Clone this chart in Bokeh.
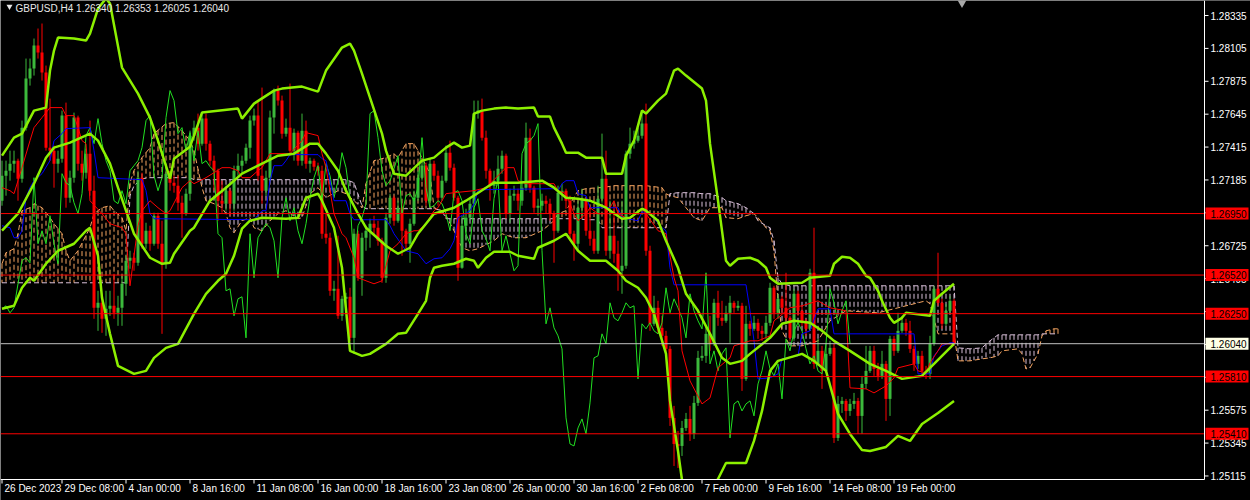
import numpy as np
from bokeh.plotting import figure
from bokeh.models import Range1d, ColumnDataSource
from bokeh.embed import file_html
from bokeh.resources import INLINE
from bokeh.core.properties import value

symbol = "GBPUSD,H4"
first_open = 1.27040

closes = [
    1.27215, 1.27250, 1.27299, 1.27320, 1.27194, 1.27551, 1.27894, 1.27964, 1.28125, 1.28076,
    1.27936, 1.27411, 1.27390, 1.27299, 1.27334, 1.27635, 1.27061, 1.27201, 1.27621, 1.27299,
    1.27236, 1.27369, 1.27110, 1.26291, 1.26326, 1.26214, 1.26284, 1.26305, 1.26256, 1.26291,
    1.26459, 1.26620, 1.26641, 1.26606, 1.27201, 1.26739, 1.26830, 1.26739, 1.26935, 1.26739,
    1.26599, 1.27229, 1.27166, 1.27145, 1.27026, 1.26949, 1.27089, 1.27495, 1.27551, 1.27439,
    1.27614, 1.27439, 1.27320, 1.27250, 1.27040, 1.27019, 1.27110, 1.27019, 1.27250, 1.27285,
    1.27320, 1.27411, 1.27600, 1.27635, 1.27215, 1.27110, 1.27201, 1.27621, 1.27810, 1.27740,
    1.27509, 1.27551, 1.27390, 1.27516, 1.27320, 1.27530, 1.27299, 1.27320, 1.27278, 1.27250,
    1.26809, 1.26781, 1.26410, 1.26424, 1.26235, 1.26354, 1.26368, 1.26081, 1.26809, 1.26501,
    1.26781, 1.26830, 1.26879, 1.26851, 1.26760, 1.26501, 1.26921, 1.27061, 1.26900, 1.26991,
    1.26830, 1.26739, 1.26879, 1.27061, 1.27201, 1.27285, 1.27040, 1.27299, 1.27215, 1.27061,
    1.27180, 1.27376, 1.27271, 1.27061, 1.26571, 1.26865, 1.26921, 1.27019, 1.27649, 1.27670,
    1.27481, 1.27250, 1.27145, 1.27180, 1.27264, 1.27355, 1.26949, 1.27075, 1.27089, 1.27040,
    1.27131, 1.27481, 1.27131, 1.26991, 1.27005, 1.27040, 1.27019, 1.26949, 1.26830, 1.27096,
    1.27110, 1.27040, 1.26809, 1.26739, 1.26991, 1.27054, 1.26830, 1.26774, 1.26690, 1.27054,
    1.27194, 1.26690, 1.26795, 1.26669, 1.26550, 1.26585, 1.27369, 1.27439, 1.27460, 1.27495,
    1.27579, 1.26690, 1.26179, 1.26291, 1.26151, 1.26095, 1.26004, 1.25521, 1.25339, 1.25325,
    1.25451, 1.25514, 1.25409, 1.25626, 1.25941, 1.25955, 1.26109, 1.26039, 1.26326, 1.26221,
    1.26200, 1.26256, 1.26326, 1.26291, 1.26305, 1.25794, 1.26179, 1.26144, 1.26186, 1.26130,
    1.26109, 1.26186, 1.26431, 1.26256, 1.26354, 1.26291, 1.26221, 1.26081, 1.26389, 1.26270,
    1.26200, 1.26144, 1.26536, 1.25899, 1.25990, 1.25850, 1.25969, 1.26011, 1.25381, 1.25619,
    1.25640, 1.25570, 1.25619, 1.25640, 1.25535, 1.25759, 1.25850, 1.25990, 1.25864, 1.25815,
    1.25899, 1.25654, 1.26074, 1.25990, 1.26130, 1.26186, 1.26130, 1.26004, 1.25899, 1.25955,
    1.25850, 1.25829, 1.26039, 1.26424, 1.26326, 1.26179, 1.26270, 1.26340, 1.26040,
]

highs = [
    1.27320, 1.27320, 1.27390, 1.27390, 1.27334, 1.27600, 1.28034, 1.28034, 1.28174, 1.28244,
    1.28279, 1.27985, 1.27754, 1.27425, 1.27390, 1.27670, 1.27726, 1.27250, 1.27656, 1.27635,
    1.27390, 1.27404, 1.27600, 1.27215, 1.26410, 1.26375, 1.26410, 1.26410, 1.26529, 1.26375,
    1.26515, 1.26655, 1.26690, 1.26676, 1.27250, 1.27236, 1.26886, 1.26865, 1.26956, 1.26956,
    1.26900, 1.27285, 1.27250, 1.27215, 1.27215, 1.27075, 1.27124, 1.27530, 1.27600, 1.27649,
    1.27656, 1.27649, 1.27460, 1.27355, 1.27264, 1.27180, 1.27145, 1.27124, 1.27285, 1.27369,
    1.27355, 1.27439, 1.27635, 1.27684, 1.27740, 1.27831, 1.27250, 1.27670, 1.27824, 1.27845,
    1.27775, 1.27614, 1.27859, 1.27544, 1.27530, 1.27649, 1.27600, 1.27341, 1.27334, 1.27306,
    1.27285, 1.26949, 1.26816, 1.26480, 1.26795, 1.26375, 1.26396, 1.26431, 1.26844, 1.26830,
    1.26816, 1.26865, 1.26914, 1.26935, 1.26900, 1.26781, 1.26956, 1.27089, 1.27075, 1.27040,
    1.27019, 1.26844, 1.26914, 1.27110, 1.27250, 1.27320, 1.27306, 1.27334, 1.27320, 1.27250,
    1.27215, 1.27425, 1.27460, 1.27299, 1.27075, 1.26935, 1.26984, 1.27054, 1.27740, 1.27740,
    1.27754, 1.27530, 1.27264, 1.27250, 1.27355, 1.27390, 1.27369, 1.27124, 1.27145, 1.27124,
    1.27180, 1.27586, 1.27544, 1.27145, 1.27054, 1.27089, 1.27075, 1.27054, 1.26970, 1.27145,
    1.27159, 1.27124, 1.27075, 1.26830, 1.27040, 1.27124, 1.27005, 1.27005, 1.26830, 1.27145,
    1.27509, 1.27390, 1.27040, 1.27005, 1.26760, 1.27040, 1.27390, 1.27551, 1.27530, 1.27551,
    1.27670, 1.27719, 1.26725, 1.26375, 1.26340, 1.26235, 1.26130, 1.26025, 1.25605, 1.25430,
    1.25500, 1.25556, 1.25605, 1.25675, 1.25990, 1.26025, 1.26165, 1.26235, 1.26354, 1.26410,
    1.26340, 1.26305, 1.26375, 1.26340, 1.26340, 1.26326, 1.26305, 1.26200, 1.26235, 1.26214,
    1.26165, 1.26235, 1.26466, 1.26445, 1.26389, 1.26375, 1.26536, 1.26235, 1.26424, 1.26410,
    1.26305, 1.26214, 1.26564, 1.26851, 1.26074, 1.26025, 1.26039, 1.26060, 1.26039, 1.25675,
    1.25668, 1.25654, 1.25654, 1.25696, 1.25661, 1.25815, 1.26025, 1.26025, 1.26025, 1.25906,
    1.25990, 1.25920, 1.26095, 1.26095, 1.26256, 1.26235, 1.26214, 1.26200, 1.26025, 1.25990,
    1.25990, 1.25885, 1.26095, 1.26445, 1.26676, 1.26354, 1.26319, 1.26375, 1.26353,
]

lows = [
    1.27005, 1.27075, 1.27180, 1.27236, 1.27040, 1.27166, 1.27530, 1.27845, 1.27915, 1.28034,
    1.27880, 1.27390, 1.27320, 1.27131, 1.27236, 1.27306, 1.26991, 1.27026, 1.27166, 1.27250,
    1.27180, 1.27194, 1.27075, 1.26214, 1.26130, 1.26116, 1.26095, 1.26235, 1.26214, 1.26165,
    1.26165, 1.26375, 1.26564, 1.26550, 1.26585, 1.26704, 1.26704, 1.26690, 1.26725, 1.26704,
    1.26109, 1.26564, 1.27110, 1.27096, 1.26970, 1.26781, 1.26935, 1.27040, 1.27460, 1.27390,
    1.27425, 1.27390, 1.27285, 1.27110, 1.26900, 1.26956, 1.26970, 1.26935, 1.26970, 1.27215,
    1.27236, 1.27299, 1.27334, 1.27565, 1.27180, 1.27019, 1.27075, 1.27180, 1.27509, 1.27705,
    1.27474, 1.27488, 1.27355, 1.27320, 1.27285, 1.27285, 1.27264, 1.27236, 1.27250, 1.27215,
    1.26774, 1.26739, 1.26375, 1.26340, 1.26214, 1.26200, 1.26256, 1.26060, 1.25969, 1.26480,
    1.26375, 1.26690, 1.26711, 1.26795, 1.26725, 1.26466, 1.26466, 1.26879, 1.26865, 1.26886,
    1.26655, 1.26704, 1.26606, 1.26865, 1.27040, 1.27180, 1.27005, 1.27005, 1.27180, 1.27005,
    1.27040, 1.27166, 1.27250, 1.27040, 1.26480, 1.26564, 1.26760, 1.26900, 1.26970, 1.27614,
    1.27460, 1.27194, 1.27040, 1.27089, 1.27145, 1.27229, 1.26914, 1.26886, 1.27040, 1.26970,
    1.27005, 1.27110, 1.27096, 1.26956, 1.26935, 1.26970, 1.26949, 1.26900, 1.26606, 1.26816,
    1.27040, 1.26984, 1.26760, 1.26620, 1.26690, 1.26935, 1.26795, 1.26725, 1.26669, 1.26669,
    1.27026, 1.26655, 1.26634, 1.26606, 1.26410, 1.26389, 1.26564, 1.27334, 1.27404, 1.27446,
    1.27474, 1.26655, 1.26130, 1.26165, 1.26109, 1.26025, 1.25976, 1.25465, 1.25185, 1.25171,
    1.25255, 1.25430, 1.25360, 1.25374, 1.25605, 1.25920, 1.25906, 1.25990, 1.26025, 1.26165,
    1.26165, 1.26186, 1.26046, 1.26256, 1.26270, 1.25710, 1.25780, 1.26095, 1.26130, 1.26074,
    1.26060, 1.26074, 1.26165, 1.26214, 1.26214, 1.26256, 1.26200, 1.26060, 1.26060, 1.26235,
    1.26165, 1.26095, 1.26130, 1.25864, 1.25885, 1.25724, 1.25836, 1.25955, 1.25346, 1.25360,
    1.25556, 1.25500, 1.25535, 1.25584, 1.25409, 1.25409, 1.25724, 1.25836, 1.25815, 1.25780,
    1.25794, 1.25500, 1.25535, 1.25955, 1.25976, 1.26116, 1.26095, 1.25976, 1.25850, 1.25864,
    1.25815, 1.25794, 1.25794, 1.26025, 1.26305, 1.26144, 1.26165, 1.26256, 1.26025,
]

# Bollinger bands (bar index, price)
bb_upper_bar = [0, 3, 5, 8, 11, 12, 13, 14, 18, 21, 22, 24, 26, 27, 30, 34, 37, 39, 42, 43,
                47, 48, 50, 59, 60, 63, 68, 70, 75, 79, 81, 85, 87, 88, 90, 92, 95, 96, 98, 101,
                105, 108, 111, 113, 115, 117, 118, 120, 123, 126, 129, 133, 134, 137, 138, 140, 141, 144, 146, 150,
                151, 155, 156, 158, 160, 161, 164, 166, 168, 169, 171, 175, 176, 177, 179, 181, 182, 184, 187, 189,
                191, 192, 194, 200, 202, 207, 208, 210, 212, 214, 216, 217, 219, 220, 222, 223, 225, 226, 232, 233,
                235, 238]
bb_upper = [1.27355, 1.27481, 1.27509, 1.27670, 1.27691, 1.27950, 1.28090, 1.28181, 1.28174, 1.28160,
            1.28209, 1.28384, 1.28454, 1.28419, 1.27971, 1.27789, 1.27621, 1.27460, 1.27194, 1.27334,
            1.27418, 1.27495, 1.27656, 1.27684, 1.27614, 1.27719, 1.27810, 1.27824, 1.27838, 1.27803,
            1.27950, 1.28111, 1.28139, 1.28090, 1.27929, 1.27761, 1.27509, 1.27390, 1.27229, 1.27215,
            1.27320, 1.27341, 1.27411, 1.27446, 1.27411, 1.27425, 1.27649, 1.27670, 1.27684, 1.27691,
            1.27684, 1.27691, 1.27628, 1.27628, 1.27551, 1.27439, 1.27376, 1.27376, 1.27341, 1.27341,
            1.27229, 1.27229, 1.27355, 1.27460, 1.27670, 1.27649, 1.27740, 1.27789, 1.27950, 1.27964,
            1.27915, 1.27824, 1.27740, 1.27439, 1.27040, 1.26620, 1.26585, 1.26634, 1.26641, 1.26620,
            1.26571, 1.26501, 1.26459, 1.26466, 1.26501, 1.26515, 1.26599, 1.26648, 1.26641, 1.26599,
            1.26515, 1.26501, 1.26410, 1.26340, 1.26221, 1.26186, 1.26221, 1.26256, 1.26235, 1.26340,
            1.26389, 1.26459]

bb_mid_bar = [0, 4, 8, 11, 13, 17, 22, 24, 27, 29, 31, 33, 37, 40, 42, 43, 47, 48, 52, 56,
              60, 65, 69, 73, 77, 79, 81, 84, 86, 89, 91, 96, 99, 102, 104, 108, 113, 116, 121, 123,
              129, 135, 138, 141, 144, 147, 151, 155, 157, 160, 161, 164, 166, 169, 171, 174, 177, 180, 182, 185,
              187, 192, 195, 198, 202, 205, 208, 212, 217, 221, 225, 230, 233, 238]
bb_mid = [1.26830, 1.26949, 1.27159, 1.27341, 1.27411, 1.27446, 1.27509, 1.27460, 1.27299, 1.27131,
          1.26970, 1.26809, 1.26641, 1.26599, 1.26606, 1.26669, 1.26830, 1.26851, 1.27040, 1.27131,
          1.27229, 1.27299, 1.27355, 1.27369, 1.27439, 1.27439, 1.27369, 1.27250, 1.27110, 1.26949,
          1.26851, 1.26725, 1.26669, 1.26711, 1.26809, 1.26949, 1.26991, 1.27040, 1.27131, 1.27166,
          1.27166, 1.27180, 1.27131, 1.27061, 1.27054, 1.27040, 1.26991, 1.26914, 1.26921, 1.26984,
          1.26970, 1.26900, 1.26760, 1.26571, 1.26389, 1.26270, 1.26109, 1.25941, 1.25899, 1.25920,
          1.25969, 1.26081, 1.26179, 1.26200, 1.26186, 1.26130, 1.26060, 1.25990, 1.25899, 1.25850,
          1.25794, 1.25815, 1.25899, 1.26039]

bb_lower_bar = [0, 3, 5, 7, 8, 11, 14, 18, 21, 22, 24, 25, 27, 29, 33, 36, 38, 41, 44, 48,
                51, 54, 56, 58, 60, 62, 65, 71, 74, 76, 79, 80, 83, 85, 87, 90, 92, 96, 99, 101,
                104, 106, 107, 108, 110, 113, 116, 118, 119, 121, 123, 127, 129, 133, 134, 138, 141, 144, 147, 151,
                154, 156, 159, 161, 163, 166, 167, 169, 170, 172, 176, 179, 181, 186, 188, 190, 192, 194, 200, 203,
                206, 209, 212, 215, 217, 221, 224, 227, 230, 234, 238]
bb_lower = [1.26284, 1.26305, 1.26431, 1.26501, 1.26480, 1.26599, 1.26690, 1.26739, 1.26830, 1.26851,
            1.26655, 1.26361, 1.26109, 1.25885, 1.25829, 1.25850, 1.25941, 1.26011, 1.26039, 1.26249,
            1.26389, 1.26480, 1.26529, 1.26655, 1.26844, 1.26900, 1.26921, 1.26914, 1.26921, 1.27061,
            1.27089, 1.27040, 1.26851, 1.26571, 1.25990, 1.25955, 1.25969, 1.26039, 1.26109, 1.26116,
            1.26249, 1.26340, 1.26501, 1.26571, 1.26585, 1.26599, 1.26634, 1.26620, 1.26571, 1.26641,
            1.26683, 1.26683, 1.26655, 1.26634, 1.26711, 1.26760, 1.26809, 1.26690, 1.26620, 1.26620,
            1.26550, 1.26480, 1.26431, 1.26361, 1.26249, 1.25969, 1.25640, 1.25290, 1.25087, 1.24996,
            1.24996, 1.25094, 1.25206, 1.25206, 1.25360, 1.25570, 1.25850, 1.25920, 1.25969, 1.25920,
            1.25850, 1.25549, 1.25409, 1.25297, 1.25290, 1.25318, 1.25395, 1.25360, 1.25479, 1.25556,
            1.25640]

# Ichimoku
tenkan_bar = [0, 2, 3, 4, 5, 7, 8, 10, 12, 15, 16, 18, 19, 20, 21, 22, 25, 27, 30, 31,
              32, 33, 34, 35, 37, 39, 41, 42, 45, 47, 48, 51, 55, 57, 59, 60, 62, 64, 65, 67,
              72, 75, 76, 79, 80, 81, 83, 85, 86, 88, 89, 93, 95, 96, 97, 99, 101, 103, 104, 106,
              108, 109, 111, 113, 118, 121, 126, 128, 129, 131, 138, 139, 141, 143, 144, 146, 147, 149, 151, 152,
              153, 154, 156, 157, 160, 161, 164, 166, 168, 169, 170, 172, 175, 177, 179, 182, 183, 187, 189, 192,
              193, 197, 200, 204, 207, 211, 212, 216, 218, 221, 223, 224, 228, 229, 231, 232, 234, 235, 238]
tenkan = [1.27131, 1.27110, 1.27089, 1.27180, 1.27271, 1.27460, 1.27551, 1.27621, 1.27691, 1.27691,
          1.27635, 1.27635, 1.27551, 1.27460, 1.27439, 1.27040, 1.26949, 1.26879, 1.26851, 1.26809,
          1.26445, 1.26655, 1.26865, 1.26970, 1.27040, 1.26991, 1.26949, 1.26970, 1.27131, 1.27180,
          1.27159, 1.27201, 1.27271, 1.27271, 1.27250, 1.27201, 1.27201, 1.27250, 1.27271, 1.27369,
          1.27369, 1.27460, 1.27516, 1.27495, 1.27369, 1.27271, 1.26949, 1.26809, 1.26781, 1.26641,
          1.26501, 1.26459, 1.26480, 1.26585, 1.26690, 1.26739, 1.26809, 1.26830, 1.26830, 1.26879,
          1.26970, 1.26991, 1.27089, 1.27096, 1.27110, 1.27131, 1.27271, 1.27271, 1.27180, 1.27159,
          1.27159, 1.27110, 1.27089, 1.26949, 1.26900, 1.26949, 1.26991, 1.26949, 1.26949, 1.26991,
          1.27040, 1.26949, 1.26921, 1.26914, 1.26984, 1.26949, 1.26830, 1.26809, 1.26501, 1.26410,
          1.25990, 1.25780, 1.25619, 1.25661, 1.25871, 1.25941, 1.26025, 1.26060, 1.26060, 1.26095,
          1.26200, 1.26291, 1.26305, 1.26340, 1.26291, 1.26270, 1.25731, 1.25724, 1.25696, 1.25745,
          1.25801, 1.25871, 1.25899, 1.25850, 1.25836, 1.25906, 1.25990, 1.26039, 1.26039]

kijun_bar = [0, 2, 3, 4, 5, 6, 7, 8, 10, 12, 13, 15, 16, 22, 23, 24, 35, 36, 37, 38,
             63, 65, 66, 67, 68, 70, 71, 72, 79, 80, 81, 82, 83, 86, 87, 88, 96, 97, 98, 101,
             104, 106, 108, 110, 112, 113, 114, 117, 118, 119, 120, 138, 139, 140, 141, 143, 144, 146, 147, 154,
             155, 159, 160, 162, 165, 166, 167, 168, 186, 187, 188, 189, 192, 194, 195, 196, 199, 200, 202, 204,
             207, 208, 228, 229, 232, 233, 235, 237, 238]
kijun = [1.26865, 1.26851, 1.26781, 1.26781, 1.26830, 1.27061, 1.27131, 1.27180, 1.27229, 1.27320,
         1.27460, 1.27509, 1.27544, 1.27551, 1.27390, 1.27201, 1.27187, 1.27110, 1.26949, 1.26914,
         1.26907, 1.26970, 1.26970, 1.27180, 1.27285, 1.27285, 1.27320, 1.27362, 1.27362, 1.27334,
         1.27320, 1.27180, 1.27040, 1.27040, 1.26949, 1.26907, 1.26907, 1.26865, 1.26809, 1.26690,
         1.26669, 1.26599, 1.26634, 1.26641, 1.26704, 1.26760, 1.26921, 1.26970, 1.27019, 1.27110,
         1.27117, 1.27124, 1.27110, 1.27159, 1.27180, 1.27180, 1.27089, 1.27075, 1.26991, 1.26991,
         1.26921, 1.26900, 1.26963, 1.26949, 1.26851, 1.26830, 1.26571, 1.26452, 1.26452, 1.26270,
         1.26060, 1.25794, 1.25801, 1.25829, 1.25934, 1.25941, 1.25955, 1.26109, 1.26130, 1.26284,
         1.26284, 1.26109, 1.26109, 1.25829, 1.25829, 1.25955, 1.26025, 1.26046, 1.26046]

cloud_bar = [0, 1, 3, 4, 5, 7, 8, 10, 12, 13, 15, 16, 17, 19, 22, 23, 25, 27, 28, 30,
             31, 32, 33, 35, 37, 38, 41, 43, 45, 47, 48, 50, 51, 53, 55, 56, 57, 58, 60, 62,
             63, 65, 67, 69, 71, 74, 75, 77, 79, 81, 84, 86, 88, 90, 91, 93, 96, 98, 99, 101,
             103, 105, 107, 108, 110, 111, 113, 115, 117, 119, 123, 125, 128, 131, 135, 138, 139, 141, 144, 146,
             149, 150, 153, 156, 161, 165, 166, 167, 169, 171, 173, 175, 177, 180, 181, 184, 186, 188, 189, 191,
             192, 193, 194, 195, 197, 200, 204, 207, 211, 219, 226, 231, 232, 234, 238, 239, 242, 245, 247, 249,
             250, 254, 255, 256, 257, 259, 260, 261, 263, 264]
span_a = [1.26599, 1.26676, 1.26704, 1.26809, 1.26970, 1.26991, 1.27019, 1.26991, 1.26921, 1.26879,
          1.26809, 1.26690, 1.26620, 1.26690, 1.26851, 1.26949, 1.26991, 1.27005, 1.26970, 1.26921,
          1.26830, 1.27166, 1.27250, 1.27341, 1.27411, 1.27509, 1.27579, 1.27586, 1.27530, 1.27460,
          1.27390, 1.27131, 1.27040, 1.27019, 1.26991, 1.26949, 1.26851, 1.26816, 1.26900, 1.26921,
          1.26851, 1.26830, 1.26900, 1.26949, 1.26970, 1.26914, 1.26921, 1.27089, 1.27131, 1.27061,
          1.27110, 1.27089, 1.27040, 1.26991, 1.27159, 1.27320, 1.27341, 1.27369, 1.27341, 1.27439,
          1.27439, 1.27341, 1.27229, 1.26991, 1.26970, 1.26935, 1.26830, 1.26711, 1.26690, 1.26704,
          1.26760, 1.26809, 1.26781, 1.26781, 1.26830, 1.26900, 1.26949, 1.26970, 1.27110, 1.27124,
          1.27131, 1.27131, 1.27145, 1.27145, 1.27145, 1.27131, 1.27089, 1.27075, 1.27061, 1.26991,
          1.26921, 1.26900, 1.26991, 1.26991, 1.26921, 1.26914, 1.26935, 1.26949, 1.26921, 1.26851,
          1.26830, 1.26690, 1.26340, 1.26130, 1.26025, 1.26025, 1.26060, 1.26200, 1.26270, 1.26256,
          1.26305, 1.26340, 1.26319, 1.26109, 1.26109, 1.25920, 1.25920, 1.25934, 1.25941, 1.25955,
          1.25990, 1.26004, 1.25969, 1.25864, 1.25871, 1.25969, 1.26095, 1.26130, 1.26144, 1.26144]
span_b = [1.26466, 1.26466, 1.26466, 1.26466, 1.26466, 1.26466, 1.26466, 1.26466, 1.26466, 1.26466,
          1.26466, 1.26466, 1.26466, 1.26466, 1.26466, 1.26466, 1.26466, 1.26466, 1.26466, 1.26466,
          1.26466, 1.27075, 1.27145, 1.27194, 1.27201, 1.27201, 1.27201, 1.27201, 1.27201, 1.27201,
          1.27187, 1.27187, 1.27187, 1.27187, 1.27187, 1.27187, 1.27187, 1.27187, 1.27187, 1.27187,
          1.27187, 1.27187, 1.27187, 1.27187, 1.27187, 1.27187, 1.27187, 1.27187, 1.27187, 1.27187,
          1.27187, 1.27187, 1.27166, 1.27005, 1.26984, 1.26984, 1.26984, 1.26984, 1.26984, 1.26984,
          1.26984, 1.26984, 1.26984, 1.26984, 1.26970, 1.26914, 1.26914, 1.26914, 1.26914, 1.26914,
          1.26914, 1.26914, 1.26914, 1.26914, 1.26914, 1.26914, 1.26914, 1.26914, 1.26914, 1.26907,
          1.26907, 1.26851, 1.26851, 1.26851, 1.26851, 1.26851, 1.26851, 1.27089, 1.27096, 1.27096,
          1.27096, 1.27089, 1.27089, 1.27061, 1.27040, 1.27019, 1.26991, 1.26949, 1.26900, 1.26865,
          1.26851, 1.26760, 1.26501, 1.26459, 1.26445, 1.26445, 1.26445, 1.26445, 1.26445, 1.26445,
          1.26445, 1.26445, 1.26445, 1.26445, 1.26445, 1.26011, 1.26004, 1.26011, 1.26060, 1.26102,
          1.26102, 1.26102, 1.26102, 1.26102, 1.26102, 1.26102, 1.26109, 1.26109, 1.26109, 1.26109]

chikou_shift = 26

date_tick_bars = [0, 15, 31, 47, 63, 79, 95, 111, 127, 143, 159, 175, 191, 207, 223]
date_tick_labels = ["26 Dec 2023", "29 Dec 08:00", "4 Jan 00:00", "8 Jan 16:00", "11 Jan 08:00",
                    "16 Jan 00:00", "18 Jan 16:00", "23 Jan 08:00", "26 Jan 00:00", "30 Jan 16:00",
                    "2 Feb 08:00", "7 Feb 00:00", "9 Feb 16:00", "14 Feb 08:00", "19 Feb 00:00"]
price_ticks = [1.25115, 1.25345, 1.25575, 1.25805, 1.26035, 1.26265, 1.26495, 1.26725,
               1.26955, 1.27185, 1.27415, 1.27645, 1.27875, 1.28105, 1.28335]
level_lines = [1.26950, 1.26520, 1.26250, 1.25810, 1.25410]

# ---------------------------------------------------------------------------
N = len(closes)
opens = [first_open] + closes[:-1]
hi = [max(h, o, c) for h, o, c in zip(highs, opens, closes)]
lo = [min(l, o, c) for l, o, c in zip(lows, opens, closes)]
idx = list(range(N))

W, H = 1250, 500
PX_PER_PRICE = 14300.0
PX_PER_BAR = 4.0
X0 = -0.375
X1 = X0 + W / PX_PER_BAR           # whole canvas: chart + price scale
Y1 = 1.28440
Y0 = Y1 - H / PX_PER_PRICE         # whole canvas: chart + time scale
BX = 1.0 / PX_PER_BAR              # bars per pixel
PY = 1.0 / PX_PER_PRICE            # price per pixel
XE = X0 + 1204 * BX                # right edge of the chart area
YE = Y1 - 479 * PY                 # bottom edge of the chart area

FONT = "Liberation Sans"
BULL = "#3CB93C"
BEAR = "#FF0000"
BB = "#8CF000"
TXT = "#FFFFFF"

p = figure(width=W, height=H, x_range=Range1d(X0, X1), y_range=Range1d(Y0, Y1),
           output_backend="svg", toolbar_location=None,
           x_axis_location=None, y_axis_location=None,
           background_fill_color="black", border_fill_color="black",
           outline_line_color=None, min_border=0)
p.xgrid.visible = False
p.ygrid.visible = False

# Ichimoku cloud: dotted vertical histogram between the spans
cb = np.arange(cloud_bar[0], cloud_bar[-1] + 1)
ia = np.interp(cb, cloud_bar, span_a)
ib = np.interp(cb, cloud_bar, span_b)
cloud_col = ["#F4A460" if a >= b else "#D8BFD8" for a, b in zip(ia, ib)]
p.segment(x0=cb, y0=np.maximum(ia, ib), x1=cb, y1=np.minimum(ia, ib),
          line_color=cloud_col, line_width=1, line_dash="5 3")
p.line(cloud_bar, span_a, line_color="#F4A460", line_width=1, line_dash="5 3")
p.line(cloud_bar, span_b, line_color="#D8BFD8", line_width=1, line_dash="5 3")

# candles
up = dict(x=[], o=[], c=[], h=[], l=[])
dn = dict(x=[], o=[], c=[], h=[], l=[])
for i in idx:
    d = up if closes[i] >= opens[i] else dn
    d["x"].append(i); d["o"].append(opens[i]); d["c"].append(closes[i])
    d["h"].append(hi[i]); d["l"].append(lo[i])
for d, col in ((up, BULL), (dn, BEAR)):
    src = ColumnDataSource(dict(x=d["x"], top=[max(a, b) for a, b in zip(d["o"], d["c"])],
                                bottom=[min(a, b) for a, b in zip(d["o"], d["c"])],
                                h=d["h"], l=d["l"]))
    p.segment(x0="x", y0="l", x1="x", y1="h", source=src, line_color=col, line_width=1)
    p.vbar(x="x", width=0.75, top="top", bottom="bottom", source=src,
           fill_color=col, line_color=None)

# indicators
p.line(idx[:N - chikou_shift], closes[chikou_shift:], line_color="#22E022", line_width=1)
p.line(kijun_bar, kijun, line_color="#0000FF", line_width=1)
p.line(tenkan_bar, tenkan, line_color="#FF0000", line_width=1)
p.line(bb_upper_bar, bb_upper, line_color=BB, line_width=2.5)
p.line(bb_mid_bar, bb_mid, line_color=BB, line_width=2.5)
p.line(bb_lower_bar, bb_lower, line_color=BB, line_width=2.5)

# horizontal levels and current price line
p.segment(x0=[X0] * len(level_lines), y0=level_lines, x1=[XE] * len(level_lines), y1=level_lines,
          line_color="#FF0000", line_width=1)
p.segment(x0=[X0], y0=[closes[-1]], x1=[XE], y1=[closes[-1]], line_color="#C0C0C0", line_width=1)

# black mask below the chart area and right of it (price / time scales)
p.quad(left=[XE], right=[X1], bottom=[Y0], top=[Y1], fill_color="black", line_color=None)
p.quad(left=[X0], right=[X1], bottom=[Y0], top=[YE], fill_color="black", line_color=None)

# scale lines
p.segment(x0=[XE, X0], y0=[Y1, YE], x1=[XE, XE], y1=[YE, YE], line_color="white", line_width=1)

# price scale
p.segment(x0=[XE] * len(price_ticks), y0=price_ticks, x1=[XE + 4 * BX] * len(price_ticks),
          y1=price_ticks, line_color="white", line_width=1)
p.text(x=[XE + 6 * BX] * len(price_ticks), y=price_ticks, text=[f"{v:.5f}" for v in price_ticks],
       text_color=TXT, text_font=value(FONT), text_font_size="10px",
       text_align="left", text_baseline="middle")

# time scale
p.segment(x0=date_tick_bars, y0=[YE] * len(date_tick_bars), x1=date_tick_bars,
          y1=[YE - 4 * PY] * len(date_tick_bars), line_color="white", line_width=1)
p.text(x=[b + 2.5 * BX for b in date_tick_bars], y=[YE - 3 * PY] * len(date_tick_bars),
       text=date_tick_labels, text_color=TXT, text_font=value(FONT), text_font_size="10px",
       text_align="left", text_baseline="top")

# price labels on the scale
p.quad(left=[XE + 1 * BX] * len(level_lines), right=[XE + 44 * BX] * len(level_lines),
       top=[v + 6 * PY for v in level_lines], bottom=[v - 6 * PY for v in level_lines],
       fill_color="#FF0000", line_color=None)
p.text(x=[XE + 6 * BX] * len(level_lines), y=level_lines, text=[f"{v:.5f}" for v in level_lines],
       text_color="black", text_font=value(FONT), text_font_size="10px",
       text_align="left", text_baseline="middle")
p.quad(left=[XE + 1 * BX], right=[XE + 44 * BX], top=[closes[-1] + 6 * PY],
       bottom=[closes[-1] - 6 * PY], fill_color="#FFFFE6", line_color=None)
p.text(x=[XE + 6 * BX], y=[closes[-1]], text=[f"{closes[-1]:.5f}"], text_color="black",
       text_font=value(FONT), text_font_size="10px", text_align="left", text_baseline="middle")

# header
header = f"{symbol}  {opens[-1]:.5f} {hi[-1]:.5f} {lo[-1]:.5f} {closes[-1]:.5f}"
p.text(x=[X0 + 15 * BX], y=[Y1 - 2 * PY], text=[header], text_color="#E8E8E8",
       text_font=value(FONT), text_font_size="10px", text_align="left", text_baseline="top")
p.scatter(x=[X0 + 9 * BX], y=[Y1 - 6 * PY], marker="inverted_triangle", size=6,
          color="#E8E8E8", line_color=None)
p.scatter(x=[N + 1], y=[Y1], marker="inverted_triangle", size=13, color="#A8A8A8", line_color=None)

open("out.html", "w").write(file_html(p, INLINE))
